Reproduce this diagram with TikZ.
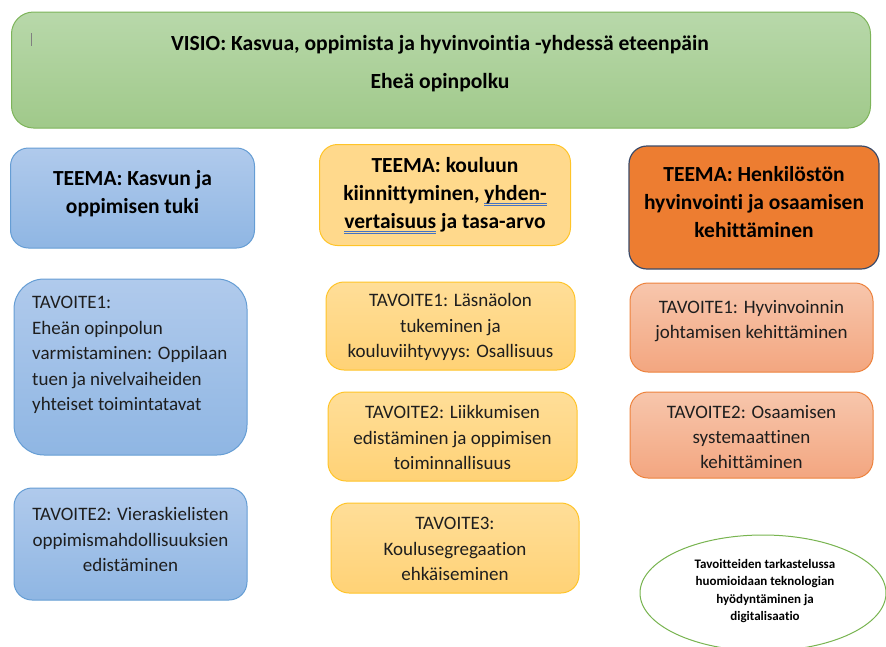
\documentclass[tikz,border=0pt]{standalone}
\usepackage{fontspec}
\setmainfont{Carlito}[Ligatures={NoCommon}]
\usetikzlibrary{shapes.geometric}
\definecolor{visiotop}{RGB}{184,216,170}
\definecolor{visiobot}{RGB}{160,201,138}
\definecolor{visioline}{RGB}{125,180,90}
\definecolor{bluetop}{RGB}{176,202,236}
\definecolor{bluebot}{RGB}{143,182,227}
\definecolor{blueline}{RGB}{101,157,212}
\definecolor{yeltop}{RGB}{255,222,152}
\definecolor{yelbot}{RGB}{255,210,118}
\definecolor{yelline}{RGB}{255,196,40}
\definecolor{teemayel}{RGB}{255,217,140}
\definecolor{teemaor}{RGB}{237,125,49}
\definecolor{teemaorline}{RGB}{60,75,105}
\definecolor{ortop}{RGB}{247,198,172}
\definecolor{orbot}{RGB}{243,166,128}
\definecolor{orline}{RGB}{237,130,60}
\definecolor{ellline}{RGB}{120,180,80}
\definecolor{txt}{RGB}{30,30,30}
\definecolor{ulblue}{RGB}{68,114,196}
\newcommand{\gramul}[1]{\leavevmode\setbox0\hbox{#1}\rlap{\textcolor{ulblue}{\raisebox{-3.4pt}{\rule{\wd0}{0.8pt}}}}\rlap{\textcolor{ulblue}{\raisebox{-5.6pt}{\rule{\wd0}{0.8pt}}}}\box0\relax}
\begin{document}
\begin{tikzpicture}[x=1pt,y=-1pt,
  box/.style={rectangle, inner sep=0pt, line width=1pt, rounded corners=18pt},
  visiobox/.style={box, draw=visioline, top color=visiotop, bottom color=visiobot, rounded corners=22pt},
  bluebox/.style={box, draw=blueline, top color=bluetop, bottom color=bluebot},
  yelbox/.style={box, draw=yelline, top color=yeltop, bottom color=yelbot},
  orbox/.style={box, draw=orline, top color=ortop, bottom color=orbot},
  titletxt/.style={align=center, inner sep=0pt, font=\bfseries\fontsize{21.6}{38}\selectfont, text=black},
  teematxt/.style={align=center, inner sep=0pt, font=\bfseries\fontsize{21.5}{28}\selectfont, text=black},
  goaltxt/.style={align=center, inner sep=0pt, font=\fontsize{19}{25.3}\selectfont, text=txt},
  elltxt/.style={align=center, inner sep=0pt, font=\bfseries\fontsize{13}{17.3}\selectfont, text=black},
]
\useasboundingbox (0,0) rectangle (886,646);
% VISIO
\node[visiobox, minimum width=859pt, minimum height=116pt] (visio) at (441,70) {};
\node[titletxt] (visiot) at (440,63.5) {VISIO: Kasvua, oppimista ja hyvinvointia -yhdessä eteenpäin\\Eheä opinpolku};
\draw[gray, line width=0.6pt] (31,33) -- (31,46);
% TEEMA
\node[bluebox, minimum width=244pt, minimum height=100pt] (t1) at (132.5,198) {};
\node[teematxt] (t1t) at (132.5,193.5) {TEEMA: Kasvun ja\\oppimisen tuki};
\node[box, draw=yelline, fill=teemayel, minimum width=251pt, minimum height=101pt] (t2) at (445,195) {};
\node[teematxt] (t2t) at (445,195.5) {TEEMA: kouluun\\kiinnittyminen, \gramul{yhden-}\\\gramul{vertaisuus} ja tasa-arvo};
\node[box, draw=teemaorline, fill=teemaor, minimum width=250pt, minimum height=123pt, line width=1.2pt] (t3) at (754,207.5) {};
\node[teematxt] (t3t) at (754,202) {TEEMA: Henkilöstön\\hyvinvointi ja osaamisen\\kehittäminen};
% Blue goals
\node[bluebox, minimum width=233pt, minimum height=176pt, rounded corners=30pt] (b1) at (130.5,367) {};
\node[goaltxt, align=left, anchor=north west, font=\fontsize{19}{25.6}\selectfont] (b1t) at (32,296) {TAVOITE1:\\Eheän opinpolun\\varmistaminen: Oppilaan\\tuen ja nivelvaiheiden\\yhteiset toimintatavat};
\node[bluebox, minimum width=233pt, minimum height=112pt] (b2) at (130.5,544) {};
\node[goaltxt] (b2t) at (130.5,539.5) {TAVOITE2: Vieraskielisten\\oppimismahdollisuuksien\\edistäminen};
% Yellow goals
\node[yelbox, minimum width=249pt, minimum height=88pt] (y1) at (450.5,326) {};
\node[goaltxt] (y1t) at (450.5,327) {TAVOITE1: Läsnäolon\\tukeminen ja\\kouluviihtyvyys: Osallisuus};
\node[yelbox, minimum width=249pt, minimum height=89pt] (y2) at (452.5,436.5) {};
\node[goaltxt] (y2t) at (452.5,437.5) {TAVOITE2: Liikkumisen\\edistäminen ja oppimisen\\toiminnallisuus};
\node[yelbox, minimum width=248pt, minimum height=90pt] (y3) at (455,548) {};
\node[goaltxt] (y3t) at (455,549) {TAVOITE3:\\Koulusegregaation\\ehkäiseminen};
% Orange goals
\node[orbox, minimum width=243pt, minimum height=89pt] (o1) at (751.5,327.5) {};
\node[goaltxt] (o1t) at (751.5,321) {TAVOITE1: Hyvinvoinnin\\johtamisen kehittäminen};
\node[orbox, minimum width=243pt, minimum height=86pt] (o2) at (751.5,435) {};
\node[goaltxt] (o2t) at (751.5,437) {TAVOITE2: Osaamisen\\systemaattinen\\kehittäminen};
% Ellipse
\node[ellipse, draw=ellline, line width=1pt, fill=white, inner sep=0pt, minimum width=246pt, minimum height=116pt] (ell) at (763,593) {};
\node[elltxt] (ellt) at (765,591) {Tavoitteiden tarkastelussa\\huomioidaan teknologian\\hyödyntäminen ja\\digitalisaatio};
\end{tikzpicture}
\end{document}
